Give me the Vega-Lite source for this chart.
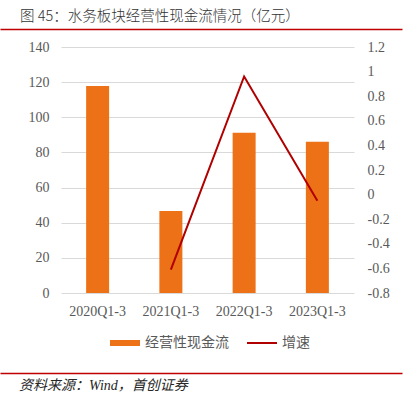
{
  "$schema": "https://vega.github.io/schema/vega-lite/v6.json",
  "padding": {"left": 0, "top": 8, "right": 0, "bottom": 0},
  "background": "white",
  "spacing": 11,
  "align": "none",
  "config": {"view": {"stroke": null}, "font": "Noto Sans CJK SC"},
  "resolve": {"scale": {"color": "independent"}, "legend": {"color": "independent"}},
  "vconcat": [
    {
      "width": 341,
      "height": 1,
      "title": {"text": "图 45：水务板块经营性现金流情况（亿元）", "anchor": "start", "frame": "group", "align": "left", "dx": -41, "fontSize": 14.5, "fontWeight": 300, "color": "#333333", "font": "Noto Sans CJK SC", "offset": 4},
      "data": {"values": [{"v": 0}]},
      "mark": {"type": "rule", "opacity": 0},
      "encoding": {
        "x": {"field": "v", "type": "quantitative", "scale": {"domain": [0, 1], "range": [-61, 341]},
          "axis": {"orient": "bottom", "domainColor": "#C00000", "domainWidth": 1.5, "ticks": false, "labels": false, "grid": false, "title": null}}
      }
    },
    {
      "width": 293,
      "height": 246,
      "data": {"values": [
        {"period": "2020Q1-3", "cash": 117.8, "growth": null},
        {"period": "2021Q1-3", "cash": 46.7, "growth": -0.61},
        {"period": "2022Q1-3", "cash": 91.2, "growth": 0.96},
        {"period": "2023Q1-3", "cash": 86.1, "growth": -0.05}
      ]},
      "encoding": {
        "x": {"field": "period", "type": "nominal", "sort": null,
          "scale": {"paddingInner": 0.686, "paddingOuter": 0.343},
          "axis": {"title": null, "labelAngle": 0, "domain": false, "ticks": false, "grid": false, "labelFont": "Liberation Serif", "labelFontSize": 14, "labelColor": "#595959", "labelPadding": 11}}
      },
      "layer": [
        {
          "mark": {"type": "bar", "color": "#ED7117"},
          "encoding": {
            "y": {"field": "cash", "type": "quantitative", "scale": {"domain": [0, 140]},
              "axis": {"title": null, "values": [0, 20, 40, 60, 80, 100, 120, 140], "domain": false, "ticks": false, "labelFont": "Liberation Serif", "labelFontSize": 14, "labelColor": "#595959", "labelPadding": 12, "gridColor": "#D9D9D9", "gridWidth": 1, "minExtent": 61, "maxExtent": 61}},
            "color": {"datum": "经营性现金流", "type": "nominal",
              "scale": {"domain": ["经营性现金流", "增速"], "range": ["#ED7117", "#B00000"]},
              "legend": {"orient": "none", "legendX": 37, "legendY": 269, "title": null, "direction": "horizontal", "labelFont": "Noto Sans CJK SC", "labelFontSize": 14, "labelColor": "#595959", "symbolType": "M-1,-0.2H1V0.2H-1Z", "symbolSize": 900, "columnPadding": 18, "labelOffset": 5, "padding": 12,
                "encode": {"symbols": {"update": {
                  "shape": {"signal": "datum.value === '增速' ? 'M-1,-0.067H1V0.067H-1Z' : 'M-1,-0.2H1V0.2H-1Z'"},
                  "fill": {"signal": "datum.value === '增速' ? '#B00000' : '#ED7117'"},
                  "stroke": {"value": "transparent"},
                  "strokeWidth": {"value": 0},
                  "opacity": {"value": 1}
                }}}}}
          }
        },
        {
          "mark": {"type": "line", "strokeWidth": 2},
          "encoding": {
            "y": {"field": "growth", "type": "quantitative", "scale": {"domain": [-0.8, 1.2]},
              "axis": {"orient": "right", "title": null, "values": [-0.8, -0.6, -0.4, -0.2, 0, 0.2, 0.4, 0.6, 0.8, 1, 1.2], "labelExpr": "toString(datum.value)", "domain": false, "ticks": false, "grid": false, "labelFont": "Liberation Serif", "labelFontSize": 14, "labelColor": "#595959", "labelPadding": 13}},
            "color": {"datum": "增速", "type": "nominal"}
          }
        }
      ],
      "resolve": {"scale": {"y": "independent"}}
    },
    {
      "width": 341,
      "height": 1,
      "title": {"text": "资料来源：Wind，首创证券", "orient": "bottom", "anchor": "start", "frame": "group", "align": "left", "dx": -42, "fontSize": 14, "fontStyle": "italic", "fontWeight": "normal", "font": "Liberation Serif, Noto Sans CJK SC", "color": "#262626", "offset": 5},
      "data": {"values": [{"v": 0}]},
      "mark": {"type": "rule", "opacity": 0},
      "encoding": {
        "x": {"field": "v", "type": "quantitative", "scale": {"domain": [0, 1], "range": [-61, 341]},
          "axis": {"orient": "top", "domainColor": "#C00000", "domainWidth": 1.5, "ticks": false, "labels": false, "grid": false, "title": null}}
      }
    }
  ]
}
